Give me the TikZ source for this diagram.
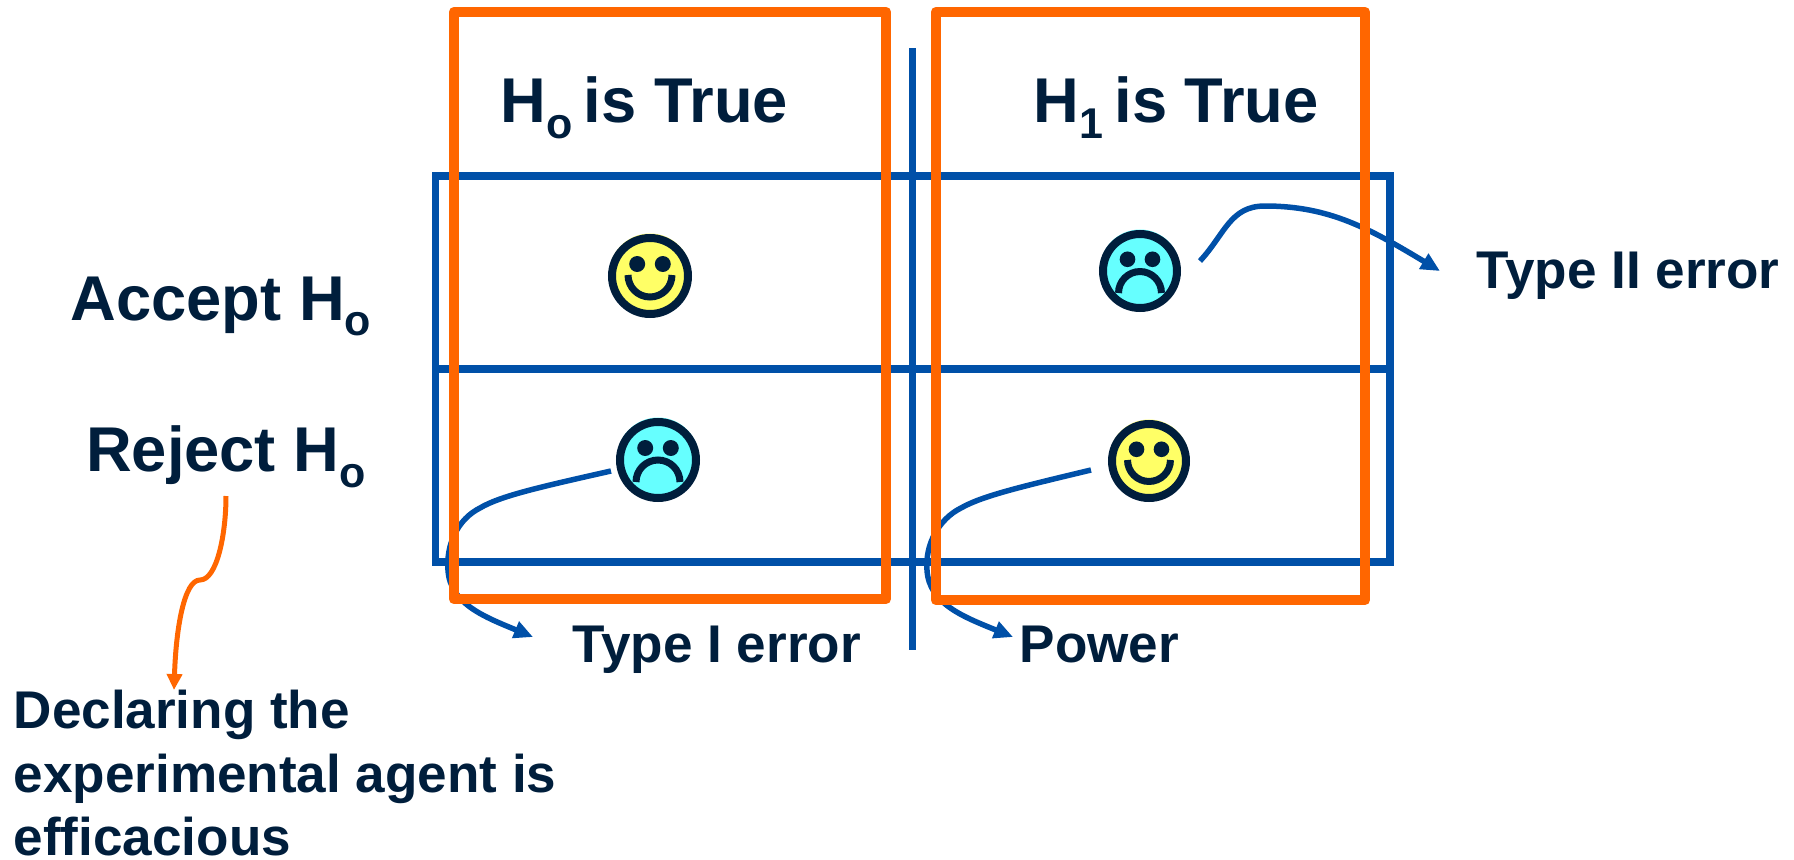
\documentclass[tikz,border=0pt]{standalone}
\usepackage{fontspec}
\setmainfont{Liberation Sans}
\usetikzlibrary{arrows.meta}
\definecolor{GridBlue}{RGB}{0,80,168}
\definecolor{BoxOrange}{RGB}{255,102,0}
\definecolor{InkNavy}{RGB}{0,30,60}
\definecolor{FaceYellow}{RGB}{255,255,102}
\definecolor{FaceCyan}{RGB}{102,255,255}
\newcommand{\lowsub}[1]{\raisebox{-0.25em}{\scalebox{0.68}{#1}}}
\newcommand{\faceparts}[5]{%
  \fill[#5] (#2,#3+0.015) circle (#4-0.01);
  \node[facering,minimum size=#4*2cm-0.08cm] (#1) at (#2,#3) {};
  \fill[InkNavy] (#2-0.128*#4/0.42,#3+0.12*#4/0.42) circle (0.08*#4/0.42);
  \fill[InkNavy] (#2+0.128*#4/0.42,#3+0.12*#4/0.42) circle (0.08*#4/0.42);}
\newcommand{\smileface}[4]{%
  \faceparts{#1}{#2}{#3}{#4}{FaceYellow}
  \draw[InkNavy,line width=0.07cm] (#2-0.22*#4/0.42,#3+0.01) arc (180:360:0.22*#4/0.42);}
\newcommand{\frownface}[4]{%
  \faceparts{#1}{#2}{#3}{#4}{FaceCyan}
  \draw[InkNavy,line width=0.07cm] (#2-0.22*#4/0.42,#3-0.22) arc (180:0:0.22*#4/0.42);}
\tikzset{
  facering/.style={circle,draw=InkNavy,line width=0.08cm,inner sep=0pt},
  gridline/.style={GridBlue,line width=0.075cm},
  choicebox/.style={BoxOrange,line width=0.105cm,line join=round},
  bendarrow/.style={GridBlue,line width=0.055cm,-{Triangle[length=0.19cm,width=0.17cm]}},
  headlabel/.style={InkNavy,anchor=base west,inner sep=0pt,font=\fontsize{18}{21}\selectfont\bfseries},
  sidelabel/.style={InkNavy,anchor=base west,inner sep=0pt,font=\fontsize{15.1}{18}\selectfont\bfseries},
}
\begin{document}
\begin{tikzpicture}
  \useasboundingbox (0,0) rectangle (17.94,8.59);
  \draw[gridline] (4.355,2.97) rectangle (13.90,6.83);
  \draw[gridline] (4.32,4.90)--(13.90,4.90);
  \draw[gridline] (9.127,8.11)--(9.127,2.09);
  % faces
  \smileface{okaccept}{6.50}{5.83}{0.42}
  \frownface{missface}{11.40}{5.88}{0.41}
  \frownface{falseface}{6.58}{3.99}{0.42}
  \smileface{powerface}{11.49}{3.98}{0.41}
  % curved pointers
  \coordinate (errorstart) at (6.11,3.88);
  \coordinate (errortip) at (5.33,2.22);
  \coordinate (powerstart) at (10.91,3.89);
  \coordinate (powertip) at (10.13,2.22);
  \coordinate (missstart) at (12.00,5.98);
  \coordinate (misstip) at (14.40,5.88);
  \draw[bendarrow] (errorstart) .. controls (5.4,3.72) and (5.0,3.63) .. (4.8,3.51)
    .. controls (4.58,3.40) and (4.46,3.15) .. (4.48,2.89)
    .. controls (4.50,2.55) and (4.85,2.42) .. (errortip);
  \draw[bendarrow] (powerstart) .. controls (10.2,3.72) and (9.82,3.63) .. (9.61,3.51)
    .. controls (9.39,3.40) and (9.25,3.15) .. (9.27,2.89)
    .. controls (9.29,2.55) and (9.64,2.42) .. (powertip);
  \draw[bendarrow] (missstart) .. controls (12.25,6.25) and (12.30,6.53) .. (12.65,6.53)
    .. controls (13.30,6.53) and (13.70,6.30) .. (misstip);
  \draw[choicebox] (4.54,2.60) rectangle (8.86,8.47);
  \draw[choicebox] (9.36,2.59) rectangle (13.65,8.47);
  % labels
  \node[headlabel] (nulltrue) at (5.00,7.365) {H\lowsub{o}\hspace{-0.1em} is True};
  \node[headlabel] (alttrue) at (10.33,7.365) {H\lowsub{1}\hspace{-0.1em} is True};
  \node[headlabel] (acceptrow) at (0.70,5.39) {Accept H\lowsub{o}};
  \node[headlabel] (rejectrow) at (0.855,3.875) {Reject H\lowsub{o}};
  \node[sidelabel] (typetwo) at (14.76,5.71) {Type II error};
  \node[sidelabel] (typeone) at (5.72,1.97) {Type I error};
  \node[sidelabel] (powerlabel) at (10.19,1.97) {Power};
  \node[sidelabel] (declaring) at (0.13,1.31) {Declaring the};
  \node[sidelabel] (agentline) at (0.13,0.67) {experimental agent is};
  \node[sidelabel] (efficacious) at (0.13,0.04) {efficacious};
  \coordinate (rejectdrop) at (2.26,3.63);
  \coordinate (declaretip) at (1.74,1.69);
  \draw[BoxOrange,line width=0.05cm,-{Triangle[length=0.16cm,width=0.15cm]}] (rejectdrop)
    .. controls (2.26,3.25) and (2.17,2.79) .. (2.00,2.79)
    .. controls (1.84,2.79) and (1.76,2.30) .. (declaretip);
\end{tikzpicture}
\end{document}
